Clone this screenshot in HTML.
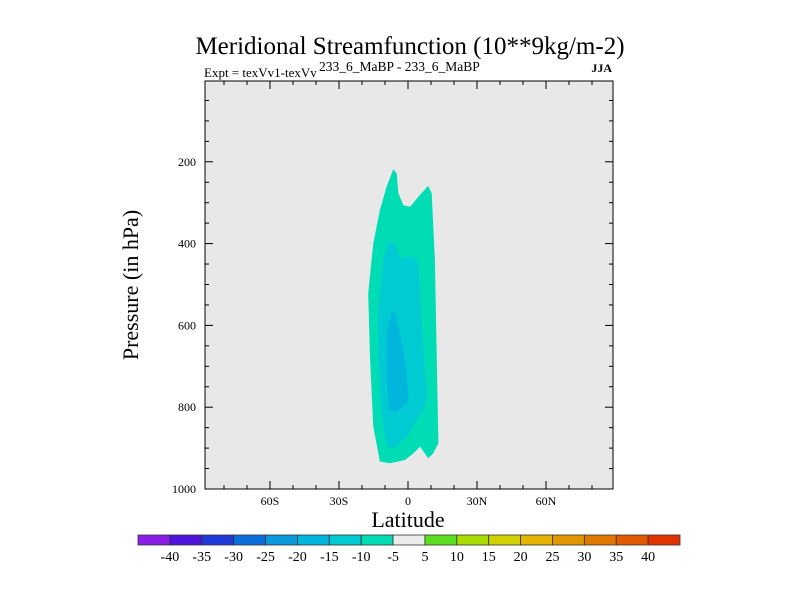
<!DOCTYPE html>
<html><head><meta charset="utf-8"><style>
body{margin:0;background:#fff;}
svg text{font-family:"Liberation Serif",serif;fill:#000;}
</style></head><body>
<svg id="c" width="800" height="600" xmlns="http://www.w3.org/2000/svg">
<text x="410" y="54" font-size="25" text-anchor="middle">Meridional Streamfunction (10**9kg/m-2)</text>
<text x="204" y="77" font-size="13">Expt = texVv1-texVv</text>
<text x="319" y="71" font-size="13.5">233_6_MaBP - 233_6_MaBP</text>
<text x="612" y="72" font-size="12" text-anchor="end" font-weight="bold">JJA</text>
<rect x="205" y="81" width="408" height="408" fill="#e8e8e8"/>
<g id="contours"></g>
<rect x="205" y="81" width="408" height="408" fill="none" stroke="#000" stroke-width="1"/>
<g id="ticks"></g>
<text transform="translate(138,285) rotate(-90)" font-size="22" text-anchor="middle">Pressure (in hPa)</text>
<text x="408" y="527" font-size="22" text-anchor="middle">Latitude</text>
<g id="cbar"></g>
</svg>
<script>
const latTicks=[-60,-30,0,30,60];
const latTickLabels=["60S","30S","0","30N","60N"];
const presTicks=[200,400,600,800,1000];
const cbLevels=[-40,-35,-30,-25,-20,-15,-10,-5,5,10,15,20,25,30,35,40];
const cbColors=["#8a1ee6","#5014dc","#1e3ad8","#0a6edc","#0a9ade","#00b6dc","#00cad2","#00dcb4","#ebebeb","#5ade1e","#a8dc00","#d2d200","#e6b400","#e19600","#e17800","#e15a00","#e13200"];
const outerLat=[-6.4,-4.9,-4.2,-2.0,0.9,5.2,8.8,10.3,11.7,12.5,13.2,11.0,8.8,5.2,2.3,-1.3,-7.8,-12.2,-15.1,-16.5,-17.3,-15.1,-12.2,-9.3];
const outerP=[218,228,277,306,310,281,259,277,440,685,888,913,925,896,913,929,937,933,848,685,522,399,318,261];
const midLat=[-8.6,-5.7,-3.5,2.3,4.5,6.0,8.1,7.4,3.0,-0.6,-4.2,-6.4,-9.3,-11.4,-12.9,-12.9,-10.7];
const midP=[395,399,436,432,448,603,766,799,839,872,892,900,896,815,685,562,440];
const innerLat=[-7.1,-5.7,-3.5,-1.3,0.1,0.1,-2.7,-5.7,-8.1,-9.3,-9.3];
const innerP=[566,570,619,685,766,782,803,811,807,725,619];

const NS="http://www.w3.org/2000/svg";
const X=lat=>408+lat*2.3;
const Y=p=>80+p*0.409;
function mk(t,a,parent){const e=document.createElementNS(NS,t);for(const k in a)e.setAttribute(k,a[k]);parent.appendChild(e);return e;}
const cg=document.getElementById('contours');
function poly(lats,ps,fill,name){
  const pts=lats.map((l,i)=>X(l).toFixed(1)+","+Y(ps[i]).toFixed(1)).join(" ");
  const e=mk('polygon',{points:pts,fill:fill},cg);
  
  
}
poly(outerLat,outerP,cbColors[7],'contour-minus5');
poly(midLat,midP,cbColors[6],'contour-minus10');
poly(innerLat,innerP,cbColors[5],'contour-minus15');

const tg=document.getElementById('ticks');
for(let l=-80;l<=80;l+=10){
  const major=l%30===0;const len=major?8:4;
  mk('line',{x1:X(l),x2:X(l),y1:489,y2:489-len,stroke:'#000'},tg);
  mk('line',{x1:X(l),x2:X(l),y1:81,y2:81+len,stroke:'#000'},tg);
}
for(let p=50;p<1000;p+=50){
  const major=p%200===0;const len=major?8:4;
  mk('line',{x1:205,x2:205+len,y1:Y(p),y2:Y(p),stroke:'#000'},tg);
  mk('line',{x1:613,x2:613-len,y1:Y(p),y2:Y(p),stroke:'#000'},tg);
}
latTicks.forEach((l,i)=>{
  const t=mk('text',{x:X(l),y:505,'font-size':12,'text-anchor':'middle'},tg);
  t.textContent=latTickLabels[i];
  
  
});
presTicks.forEach(p=>{
  const t=mk('text',{x:196,y:Y(p)+4,'font-size':12,'text-anchor':'end'},tg);
  t.textContent=p;
  
  
});
const cb=document.getElementById('cbar');
const bw=(680-138)/cbColors.length;
cbColors.forEach((c,i)=>{
  const r=mk('rect',{x:138+i*bw,y:535,width:bw,height:10,fill:c,stroke:'#333','stroke-width':0.8},cb);
  
  
});
cbLevels.forEach((v,i)=>{
  const t=mk('text',{x:138+(i+1)*bw,y:561,'font-size':14,'text-anchor':'middle'},cb);
  t.textContent=v;
  
  
});
</script>
</body></html>
